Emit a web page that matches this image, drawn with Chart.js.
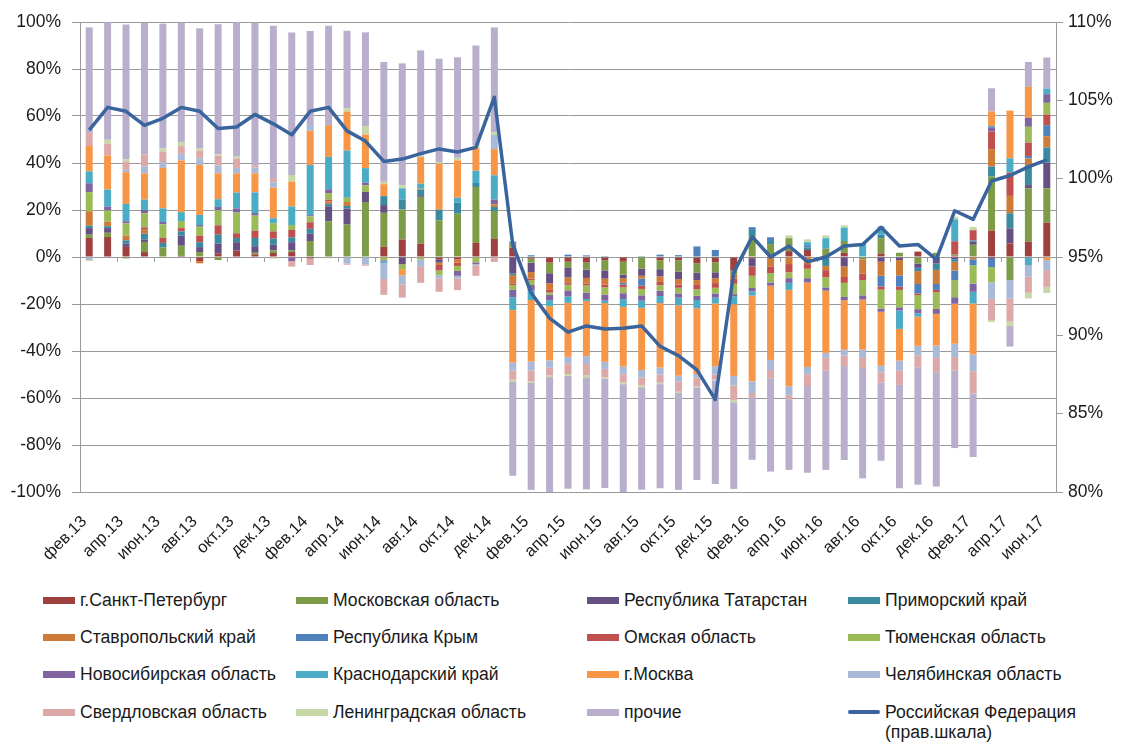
<!DOCTYPE html>
<html lang="ru">
<head>
<meta charset="utf-8">
<script src="https://cdn.jsdelivr.net/npm/chart.js@4.4.1/dist/chart.umd.min.js"></script>
<style>
    html, body { margin: 0; padding: 0; background: #fff; }
    #wrap { position: relative; width: 1122px; height: 744px; font-family: Arial, "Liberation Sans", sans-serif; }
    #chart-box { position: absolute; left: 0; top: 0; width: 1122px; height: 580px; }
    .lg-item { position: absolute; display: flex; align-items: flex-start; font-size: 17.6px; line-height: 20px; color: #1a1a1a; white-space: nowrap; }
    .lg-sw { width: 32px; height: 7px; margin-top: 7px; margin-right: 5px; flex: none; }
    .lg-line { height: 4px; margin-top: 8px; border-radius: 2px; }
</style>
</head>
<body>
<div id="wrap">
    <div id="chart-box"><canvas id="regions-chart"></canvas></div>
    <div id="legend"></div>
</div>
<script>
// месяцы (фев.13 - июн.17)
const months = [
    'фев.13','мар.13','апр.13','май.13','июн.13','июл.13','авг.13','сен.13','окт.13','ноя.13','дек.13',
    'янв.14','фев.14','мар.14','апр.14','май.14','июн.14','июл.14','авг.14','сен.14','окт.14','ноя.14','дек.14',
    'янв.15','фев.15','мар.15','апр.15','май.15','июн.15','июл.15','авг.15','сен.15','окт.15','ноя.15','дек.15',
    'янв.16','фев.16','мар.16','апр.16','май.16','июн.16','июл.16','авг.16','сен.16','окт.16','ноя.16','дек.16',
    'янв.17','фев.17','мар.17','апр.17','май.17','июн.17'
];

const regionNames = [
    'г.Санкт-Петербург', 'Московская область', 'Республика Татарстан', 'Приморский край',
    'Ставропольский край', 'Республика Крым', 'Омская область', 'Тюменская область',
    'Новосибирская область', 'Краснодарский край', 'г.Москва', 'Челябинская область',
    'Свердловская область', 'Ленинградская область', 'прочие'
];
const regionColors = [
    '#9E413E', '#7E9B47', '#654F83', '#3A8AA0',
    '#CE7B37', '#4F81BD', '#C0504D', '#9BBB59',
    '#8064A2', '#4BACC6', '#F79646', '#A9BAD8',
    '#DCA8A8', '#C6D7A8', '#B9AECB'
];

// вклад регионов, п.п.
const spb   = [8.1,8.5,4.3,2.1,0,0.5,-1.7,1.4,2.8,1.1,1.7,2.1,-0.6,0,0,0,4.3,7.4,5.7,-1,-1,6,7.7,4,-0.7,-2.4,-2,-2.4,-1.4,-2,0,-1.4,-1.4,-2.7,-2.2,-5.8,-0.5,-0.5,2.5,3,0,1.8,0,1.5,0,2.3,0,0.5,0,11.2,5.8,6.5,14.6];
const mosObl = [1.4,1.8,-0.6,4.3,4,4.3,2.1,-1.3,0,0.7,1.1,0.7,6.8,15.2,13.8,23.4,14.5,12.8,19.9,15.6,18.4,23.8,11.9,1.7,-1.7,-4.5,-2.4,-3,-4.3,-5.5,-5,-3.8,-4.8,-4,-4.3,-1.8,9,5.5,5.5,0,3.5,5,-1,6.5,1.8,-2.8,1.8,0.5,5.2,23,-9.8,22.7,14.6];
const tatar = [2.8,2,1.4,1,0,4.3,2.1,4.3,3.5,2.8,2.4,3.5,3.1,6.4,6.8,4.3,3.3,-3.1,0.7,-1.4,0,0,0,-7,-4,-4.3,-4.3,-3.5,-3.5,-1.5,-3,-3,-3.2,-3.1,-2.5,0,-3.5,0,0,0,0,-4,0,-2,-1.3,-1.8,-2.7,-1,1.4,-0.8,6.4,1.4,10.9];
const primor = [1,0.8,1.4,2.5,2,1.8,2.1,3.8,1.8,3.5,2.6,2.1,2.1,1,1.1,0,3.8,4.3,2.4,4.5,4.7,1.7,1.7,-0.7,0.5,0,0,0,0.4,0,0.4,0,0,0,0,0,2.5,1.3,0,1,-3.8,0,0,1.5,0,-1.4,-2.8,-1,0.5,4.3,6.4,8.5,6.5];
const stavr = [6.2,2,2,1.7,0,0,-1,0,0,0,0,0,0,1,1.7,0,0,0,0.4,-1,-1.4,0,1.1,-3.5,-2.8,-2.8,-2.1,-2.5,-2.5,-2,-1.2,-2.4,-2.3,-2.1,-2.1,-1.5,0,-3.5,-3,-3,-1.8,-4.5,-6,-6,-6.5,-5.5,-6,-3.8,-1,7.4,7.4,2.8,4.8];
const krym  = [0,0,0,0,0,0,0,0,0,0,0,0,0,0,0,0,0,0,0,0,0,0,0,0.8,0.3,0,1,0.7,0,-0.7,-3,1,0.8,4.5,3,0,1.2,1.6,0,1,0,0,0,-4.5,-4.8,-4,-2.5,-4,-2.5,-3.5,0,1.1,4.7];
const omsk  = [0,0,0,1,2.1,1.4,2.8,4,2,3.1,3.1,3.1,2.8,0.8,0,0,0,0,0,-2.3,-1.4,0,0,-0.7,-0.7,-1.1,-1,-0.7,-1.2,-1.2,-1.4,-1.4,-1.4,-1.8,-2,-2.3,-4,-2.8,-3.5,-2,-3,-2.5,-2.8,-1.4,-1.4,-0.7,-1,5.7,4.3,7.5,9.9,5.7,4.5];
const tyumen = [8.1,4.7,5.2,6,5.8,3,3.8,6.4,8.8,6.4,3.5,2.1,2.5,2.8,1.8,2.8,-1.4,-2.1,-1.1,-2,-2.1,-2.3,0,-2.1,-2,-1,-2.4,-3,-3.2,-2.5,-2.7,-2.4,-2.4,-2.8,-2.4,-4.4,-5.2,-4,-2.5,-4,-4.3,-6,-6.5,-8,-7.4,-6,-7.1,-7.3,-7.8,-6.5,0,6.7,5];
const novosib = [3.8,1.7,0.9,1.4,1,0,0.7,1.4,1.8,1.1,0,-1.7,0.5,1.6,0,1.1,-0.5,0,0,0,-2.1,-0.7,2,-3.1,-2.4,-2.4,-2.5,-2.8,-2.5,-2.5,-2.3,-2.2,-1.8,-1.8,-1.8,-1,-1.4,-1.4,-2,-1.8,-1.4,-1.4,-1.8,-1.4,-1.4,-1.8,-2.1,-2.8,-3.5,1.8,0,3.8,3.7];
const krasnodar = [5,7.2,7.4,4.4,5.8,3.8,4.3,3.3,6.7,8.8,2.1,7.9,21.3,13.8,20.1,6.2,-0.7,4.7,2.1,0,2.1,5.2,10.4,-5.4,-4,-2.4,-2.8,-0.8,-1,-3.3,-3,-3,-3.2,-3.5,-2.5,-3.3,-1.8,0,-3,1.3,4.5,5.7,5.5,3.5,-7.8,-1.4,0,9.3,-5,0.6,6.1,-3.4,2.4];
const moscow = [10.8,14.5,13.5,11.2,17.2,22,21.3,11,8.2,8.1,13,10.6,14.6,13.5,16.6,14.3,5.1,-2.6,11.3,19.6,15.9,9.6,11.1,-22.4,-26.2,-23.1,-23,-23.5,-25,-25.4,-26.5,-27.4,-30,-28,-26.7,-30.5,-36.5,-31.6,-41,-36,-26.5,-21,-21.3,-23,-13.5,-12.4,-13.5,-17,-21.7,6.1,20.3,13.2,-1.3];
const chelyab = [-1.3,0,1,3,2.5,2.8,2.8,3.3,2.3,2.5,2.3,0,2.5,0,-2.8,-3.1,-6.8,-3.8,-3.1,-1.4,-1.1,-0.5,6,-3.5,-3.8,-3.1,-2.8,-3.3,-3,-3.3,-3.2,-3,-2.5,-1.5,-3.5,-4.1,-5,-4.3,-3.8,-3.1,-2.1,-2.5,-3.5,-2.8,-4.1,-4,-5.2,-5.7,-7.1,-7,-7.8,-5,-4.3];
const sverdl = [5.5,5,3.5,5.1,4.5,3.3,3.3,4.3,4,1,1.8,-2.4,-2.8,-0.5,-0.5,-0.6,-6.7,-5.7,-6.8,-5.7,-5,-4.5,-2.1,-3.8,-4.7,-3.3,-4.5,-4.7,-3.6,-3.5,-3.3,-3.5,-4.3,-3.8,-2,-6.1,-1.7,-3.5,-1.7,-5,-5.5,-4.5,-4.3,-4.3,-6.2,-5.1,-6.1,-5.7,-9.5,-9,-9.9,-6.8,-7.1];
const lenObl = [-0.4,1.7,0.9,0,1.4,1.7,1,0.5,1,0,-0.7,2.8,0,0,1.4,3.4,1,1.4,0.7,0.7,1.1,1.1,1.1,-1,-0.6,-0.7,-0.8,-1,-0.6,-0.7,-0.8,-0.6,-0.6,-0.4,-0.5,-1,0,0,1.2,1.2,1.2,1,0,0,0,0,0,1.1,1.4,-0.8,-1.8,-2.4,-2.6];
const others = [45,50,57.4,56,53,50.8,51,55.3,57,60.7,64.8,60.6,40,42.3,33,40.1,51,51.8,44.7,44,42.8,42.6,44.7,-39.9,-45.5,-49,-48,-47.7,-46.5,-45.9,-43.6,-44.3,-41.2,-39.4,-44.1,-36.9,-26.7,-39.7,-30.1,-36.9,-42.2,-40,-47,-33.3,-44,-50,-48.7,-33,-27,9.9,-8.8,10.6,13.2];

// Российская Федерация, % (правая шкала)
const russia = [103.1,104.55,104.3,103.4,103.85,104.55,104.3,103.2,103.3,104.1,103.5,102.8,104.3,104.55,103.05,102.4,101.1,101.25,101.6,101.9,101.7,102.0,105.2,95.8,92.7,91.1,90.2,90.6,90.4,90.45,90.6,89.3,88.7,87.8,85.9,94.0,96.3,95.0,95.7,94.7,95.0,95.7,95.8,96.9,95.7,95.8,94.85,97.95,97.4,99.85,100.2,100.75,101.2];
const russiaName = ['Российская Федерация', '(прав.шкала)'];
const russiaColor = '#3A649D';

const regionData = [spb, mosObl, tatar, primor, stavr, krym, omsk, tyumen, novosib, krasnodar, moscow, chelyab, sverdl, lenObl, others];

const leftTicks = { min: -100, max: 100, step: 20 };
const rightTicks = { min: 80, max: 110, step: 5 };

document.addEventListener('DOMContentLoaded', () => {
    const textColor = '#1a1a1a';
    const gridColor = '#9a9a9a';
    Chart.defaults.font.family = 'Arial, "Liberation Sans", sans-serif';
    Chart.defaults.color = textColor;

    // засечки оси категорий на нулевой линии (каждые 2 месяца)
    const zeroTicks = {
        id: 'zeroTicks',
        beforeDatasetsDraw(chart) {
            const xs = chart.scales.x;
            const ys = chart.scales.y;
            const y0 = ys.getPixelForValue(0);
            const half = (xs.getPixelForValue(1) - xs.getPixelForValue(0)) / 2;
            const ctx = chart.ctx;
            ctx.save();
            ctx.strokeStyle = gridColor;
            ctx.lineWidth = 1;
            ctx.beginPath();
            for (let k = 2; k < months.length; k += 2) {
                const x = Math.round(xs.getPixelForValue(k) - half) + 0.5;
                ctx.moveTo(x, y0);
                ctx.lineTo(x, y0 + 5);
            }
            ctx.stroke();
            ctx.restore();
        }
    };

    const datasets = regionNames.map((name, i) => ({
        type: 'bar',
        label: name,
        data: regionData[i],
        backgroundColor: regionColors[i],
        borderWidth: 0,
        stack: 'regions',
        yAxisID: 'y',
        barPercentage: 0.38,
        categoryPercentage: 1,
        order: 1
    }));
    datasets.push({
        type: 'line',
        label: russiaName.join(' '),
        data: russia,
        yAxisID: 'y1',
        borderColor: russiaColor,
        borderWidth: 3.5,
        pointRadius: 0,
        tension: 0,
        fill: false,
        borderJoinStyle: 'round',
        order: 0
    });

    const ctx = document.getElementById('regions-chart').getContext('2d');
    new Chart(ctx, {
        data: { labels: months, datasets: datasets },
        options: {
            responsive: true,
            maintainAspectRatio: false,
            animation: false,
            layout: { padding: { top: 22, right: 0, bottom: 0, left: 0 } },
            plugins: { legend: { display: false }, tooltip: { enabled: false } },
            scales: {
                x: {
                    stacked: true,
                    grid: { display: false },
                    border: { display: false },
                    ticks: {
                        autoSkip: false,
                        minRotation: 45,
                        maxRotation: 45,
                        padding: 12,
                        labelOffset: -5,
                        font: { size: 16.5 },
                        callback: (v, i) => (i % 2 === 0 ? months[i] : '')
                    },
                    afterFit: s => { s.height = 88; }
                },
                y: {
                    stacked: true,
                    position: 'left',
                    min: leftTicks.min,
                    max: leftTicks.max,
                    ticks: { stepSize: leftTicks.step, padding: 11, font: { size: 17.5 }, callback: v => v + '%' },
                    grid: { color: gridColor, lineWidth: 1, tickLength: 8 },
                    border: { color: gridColor },
                    afterFit: s => { s.width = 80; }
                },
                y1: {
                    position: 'right',
                    min: rightTicks.min,
                    max: rightTicks.max,
                    ticks: { stepSize: rightTicks.step, padding: 5, font: { size: 17.5 }, callback: v => v + '%' },
                    grid: { drawOnChartArea: false, color: gridColor, tickLength: 7 },
                    border: { color: gridColor },
                    afterFit: s => { s.width = 66; }
                }
            }
        },
        plugins: [zeroTicks]
    });

    // легенда: 4 колонки
    const colX = [43, 296, 587, 848];
    const rowY = [590, 627, 664, 702];
    const legend = document.getElementById('legend');
    const items = regionNames.map((n, i) => ({ name: n, color: regionColors[i], line: false }));
    items.push({ name: russiaName.join('<br>'), color: russiaColor, line: true });
    items.forEach((it, i) => {
        const el = document.createElement('div');
        el.className = 'lg-item';
        el.style.left = colX[i % 4] + 'px';
        el.style.top = rowY[Math.floor(i / 4)] + 'px';
        const sw = document.createElement('span');
        sw.className = it.line ? 'lg-sw lg-line' : 'lg-sw';
        sw.style.background = it.color;
        const tx = document.createElement('span');
        tx.innerHTML = it.name;
        el.appendChild(sw);
        el.appendChild(tx);
        legend.appendChild(el);
    });
});
</script>
</body>
</html>
